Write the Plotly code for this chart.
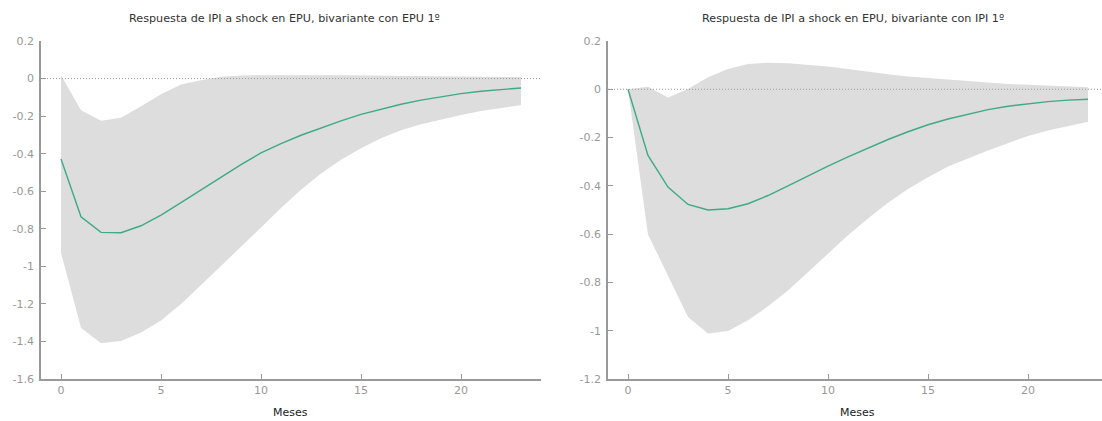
import plotly.graph_objects as go

# Horizon (months after the shock)
meses = list(range(24))

# Panel 1: bivariate VAR, EPU ordered first
irf_epu1 = [-0.428, -0.736, -0.819, -0.821, -0.784, -0.727, -0.661, -0.594,
            -0.523, -0.458, -0.396, -0.346, -0.302, -0.263, -0.225, -0.191,
            -0.163, -0.137, -0.115, -0.096, -0.080, -0.068, -0.057, -0.050]
sup_epu1 = [0.017, -0.169, -0.225, -0.209, -0.147, -0.084, -0.032, -0.009,
            0.009, 0.016, 0.018, 0.019, 0.019, 0.018, 0.017, 0.016,
            0.015, 0.014, 0.013, 0.012, 0.011, 0.010, 0.009, 0.008]
inf_epu1 = [-0.928, -1.327, -1.410, -1.397, -1.353, -1.289, -1.200, -1.100,
            -0.998, -0.897, -0.794, -0.690, -0.592, -0.506, -0.433, -0.371,
            -0.318, -0.275, -0.243, -0.217, -0.194, -0.173, -0.157, -0.141]

# Panel 2: bivariate VAR, IPI ordered first
irf_ipi1 = [0.000, -0.274, -0.405, -0.477, -0.500, -0.495, -0.474, -0.440,
            -0.400, -0.358, -0.318, -0.280, -0.244, -0.208, -0.176, -0.147,
            -0.123, -0.102, -0.084, -0.070, -0.059, -0.051, -0.045, -0.041]
sup_ipi1 = [0.000, 0.011, -0.034, 0.001, 0.050, 0.084, 0.105, 0.110,
            0.108, 0.102, 0.094, 0.084, 0.072, 0.062, 0.053, 0.046,
            0.039, 0.033, 0.028, 0.022, 0.018, 0.014, 0.011, 0.008]
inf_ipi1 = [0.000, -0.601, -0.771, -0.943, -1.012, -1.001, -0.957, -0.899,
            -0.833, -0.760, -0.682, -0.605, -0.535, -0.470, -0.413, -0.364,
            -0.320, -0.287, -0.254, -0.222, -0.193, -0.171, -0.151, -0.134]

titulos = ["Respuesta de IPI a shock en EPU, bivariante con EPU 1º",
           "Respuesta de IPI a shock en EPU, bivariante con IPI 1º"]
eje_x = "Meses"

x_ticks = [0, 5, 10, 15, 20]
y_ticks_1 = [0.2, 0, -0.2, -0.4, -0.6, -0.8, -1, -1.2, -1.4, -1.6]
y_text_1 = ["0.2", "0", "-0.2", "-0.4", "-0.6", "-0.8", "-1", "-1.2", "-1.4", "-1.6"]
y_ticks_2 = [0.2, 0, -0.2, -0.4, -0.6, -0.8, -1, -1.2]
y_text_2 = ["0.2", "0", "-0.2", "-0.4", "-0.6", "-0.8", "-1", "-1.2"]

W, H = 1102, 421
FONT = "DejaVu Sans"
BAND = "#dddddd"
LINE = "#3dab84"
AXIS = "#999999"

fig = go.Figure()

paneles = [
    (irf_epu1, sup_epu1, inf_epu1, "x", "y"),
    (irf_ipi1, sup_ipi1, inf_ipi1, "x2", "y2"),
]
for irf, sup, inf, xa, ya in paneles:
    # confidence band as a closed polygon
    fig.add_trace(go.Scatter(
        x=meses + meses[::-1], y=sup + inf[::-1], xaxis=xa, yaxis=ya,
        fill="toself", fillcolor=BAND, line=dict(width=0, color=BAND),
        mode="lines", hoverinfo="skip", showlegend=False))
    fig.add_trace(go.Scatter(
        x=meses, y=irf, xaxis=xa, yaxis=ya, mode="lines",
        line=dict(color=LINE, width=1.4), showlegend=False))

top_px, bot_px = 41, 379
ydom = [1 - bot_px / H, 1 - top_px / H]
dom1 = [41 / W, 541 / W]
dom2 = [608 / W, 1.0]

common_x = dict(showgrid=False, zeroline=False, showline=True, linecolor=AXIS,
                linewidth=1.5, ticks="inside", ticklen=5, tickcolor=AXIS,
                automargin=False, tickvals=x_ticks,
                tickfont=dict(family=FONT, size=11, color="#999999"))
common_y = dict(showgrid=False, zeroline=False, showline=True, linecolor=AXIS,
                linewidth=1.5, ticks="inside", ticklen=5, tickcolor=AXIS,
                automargin=False, ticklabelstandoff=3,
                tickfont=dict(family=FONT, size=11, color="#999999"))

fig.update_layout(
    width=W, height=H, margin=dict(l=0, r=0, t=0, b=0),
    paper_bgcolor="white", plot_bgcolor="white",
    xaxis=dict(domain=dom1, range=[-1, 24], anchor="y", **common_x),
    yaxis=dict(domain=ydom, range=[-1.6, 0.2], anchor="x",
               tickvals=y_ticks_1, ticktext=y_text_1, **common_y),
    xaxis2=dict(domain=dom2, range=[-1, 23.7], anchor="y2", **common_x),
    yaxis2=dict(domain=ydom, range=[-1.2, 0.2], anchor="x2",
                tickvals=y_ticks_2, ticktext=y_text_2, **common_y),
)

# dotted zero reference line in each panel
for xr, yr in [("x domain", "y"), ("x2 domain", "y2")]:
    fig.add_shape(type="line", xref=xr, yref=yr, x0=0, x1=1, y0=0, y1=0,
                  line=dict(color="#999999", width=1, dash="1px,2px"))

titulo_x = [284 / W, 853 / W]
meses_x = [290 / W, 857 / W]
for tx, mx, t in zip(titulo_x, meses_x, titulos):
    fig.add_annotation(text=t, xref="paper", yref="paper", x=tx, y=1 - 18 / H,
                       xanchor="center", yanchor="middle", showarrow=False,
                       font=dict(family=FONT, size=11.2, color="#333333"))
    fig.add_annotation(text=eje_x, xref="paper", yref="paper", x=mx, y=1 - 412 / H,
                       xanchor="center", yanchor="middle", showarrow=False,
                       font=dict(family=FONT, size=11, color="#222222"))

fig.write_html("out.html")
